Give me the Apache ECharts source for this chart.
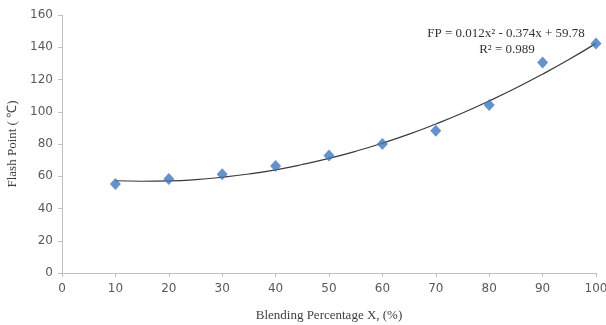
<!DOCTYPE html>
<html><head><meta charset="utf-8">
<script src="https://cdn.jsdelivr.net/npm/echarts@6/dist/echarts.min.js"></script>
<style>html,body{margin:0;padding:0;background:#fff}#c{width:606px;height:325px}</style>
</head><body><div id="c"></div>
<script>
// Measured points
const blendX = [10, 20, 30, 40, 50, 60, 70, 80, 90, 100];
const flashPoint = [55.2, 58.3, 61.2, 66.4, 72.9, 80, 88.2, 104.2, 130.6, 142.4];
// Trendline
const trendX = [10, 15, 20, 25, 30, 35, 40, 45, 50, 55, 60, 65, 70, 75, 80, 85, 90, 95, 100];
const trendY = [57.2, 56.9, 57.1, 57.9, 59.4, 61.4, 64.0, 67.3, 71.1, 75.5, 80.5, 86.1, 92.4, 99.2, 106.7, 114.7, 123.3, 132.5, 142.4];
const xTicks = [0, 10, 20, 30, 40, 50, 60, 70, 80, 90, 100];
const yTicks = [0, 20, 40, 60, 80, 100, 120, 140, 160];
const eqLine1 = 'FP = 0.012x² - 0.374x + 59.78';
const eqLine2 = 'R² = 0.989';

const chart = echarts.init(document.getElementById('c'));
const axisCol = '#bfbfbf';
const tickFont = {color: '#595959', fontSize: 12, fontFamily: 'DejaVu Sans'};
chart.setOption({
  animation: false,
  grid: {left: 62, right: 10, top: 15, bottom: 52, containLabel: false, outerBoundsMode: 'none'},
  xAxis: {
    type: 'value', min: xTicks[0], max: xTicks[xTicks.length - 1], interval: 10,
    name: 'Blending Percentage X, (%)', nameLocation: 'middle', nameGap: 36,
    nameTextStyle: {fontFamily: 'Liberation Serif', fontSize: 13, color: '#404040'},
    axisLine: {lineStyle: {color: axisCol}},
    axisTick: {show: true, length: 4, lineStyle: {color: axisCol}},
    axisLabel: Object.assign({margin: 10}, tickFont),
    splitLine: {show: false}
  },
  yAxis: {
    type: 'value', min: yTicks[0], max: yTicks[yTicks.length - 1], interval: 20,
    name: 'Flash Point ( ℃)', nameLocation: 'middle', nameGap: 43,
    nameTextStyle: {fontFamily: 'Liberation Serif', fontSize: 13, color: '#404040'},
    axisLine: {show: true, lineStyle: {color: axisCol}},
    axisTick: {show: true, length: 4, lineStyle: {color: axisCol}},
    axisLabel: Object.assign({margin: 9}, tickFont),
    splitLine: {show: false}
  },
  series: [
    {
      type: 'line', data: trendX.map((x, i) => [x, trendY[i]]), smooth: true,
      showSymbol: false, lineStyle: {color: '#3a3a3a', width: 1.2}, z: 2
    },
    {
      type: 'scatter', data: blendX.map((x, i) => [x, flashPoint[i]]),
      symbol: 'diamond', symbolSize: [11, 12],
      itemStyle: {color: '#3f77bd'}, z: 3
    }
  ],
  graphic: [
    {type: 'text', x: 506, y: 34, style: {text: eqLine1, align: 'center', verticalAlign: 'middle', fontFamily: 'Liberation Serif', fontSize: 13, fill: '#333'}},
    {type: 'text', x: 507, y: 50, style: {text: eqLine2, align: 'center', verticalAlign: 'middle', fontFamily: 'Liberation Serif', fontSize: 13, fill: '#333'}}
  ]
});
</script></body></html>
